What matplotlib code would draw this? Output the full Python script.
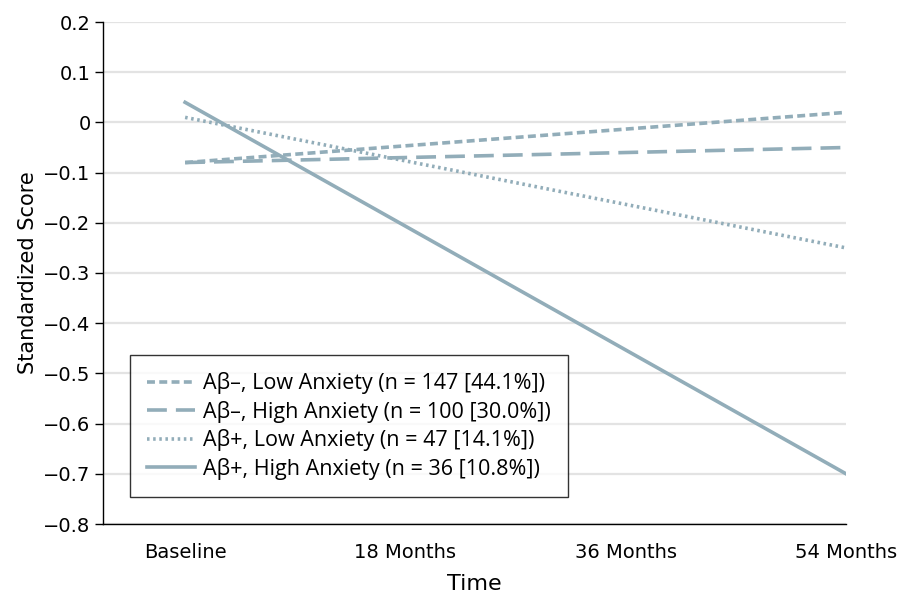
import matplotlib
matplotlib.use("Agg")
import matplotlib.pyplot as plt

# 数据
time_labels = ["Baseline", "18 Months", "36 Months", "54 Months"]
x_pts = [0, 3]
ab_neg_low = [-0.08, 0.02]
ab_neg_high = [-0.08, -0.05]
ab_pos_low = [0.01, -0.25]
ab_pos_high = [0.04, -0.70]
series_labels = [
    "Aβ–, Low Anxiety (n = 147 [44.1%])",
    "Aβ–, High Anxiety (n = 100 [30.0%])",
    "Aβ+, Low Anxiety (n = 47 [14.1%])",
    "Aβ+, High Anxiety (n = 36 [10.8%])",
]
y_ticks = [0.2, 0.1, 0, -0.1, -0.2, -0.3, -0.4, -0.5, -0.6, -0.7, -0.8]

color = "#92adb9"
plt.rcParams["font.family"] = ["Open Sans", "DejaVu Sans"]

fig = plt.figure(figsize=(8.98, 5.97), dpi=100)
ax = fig.add_axes([103 / 898, 1 - 524 / 597, (846 - 103) / 898, (524 - 22) / 597])

ax.plot(x_pts, ab_neg_low, color=color, lw=2.6, linestyle=(0, (2.2, 1.2)), label=series_labels[0])
ax.plot(x_pts, ab_neg_high, color=color, lw=2.6, linestyle=(0, (5.5, 2.5)), label=series_labels[1])
ax.plot(x_pts, ab_pos_low, color=color, lw=2.6, linestyle=(0, (0.7, 1.0)), label=series_labels[2])
ax.plot(x_pts, ab_pos_high, color=color, lw=2.6, linestyle="-", label=series_labels[3])

ax.set_xlim(-82 / 220, 3)
ax.set_ylim(-0.8, 0.2)
ax.set_yticks(y_ticks)
ax.set_yticklabels(["0" if v == 0 else f"{v:.1f}".replace("-", "\u2212") for v in y_ticks],
                   family="DejaVu Sans", fontsize=14)
ax.set_xticks(range(len(time_labels)))
ax.set_xticklabels(time_labels, family="DejaVu Sans", fontsize=14)
ax.tick_params(axis="x", length=0, pad=14)
ax.tick_params(axis="y", length=6, width=1, pad=3)
ax.yaxis.grid(True, color="#e3e3e3", lw=1.6)
ax.set_axisbelow(True)
for s in ["top", "right"]:
    ax.spines[s].set_visible(False)
ax.spines["left"].set_linewidth(1.0)
ax.spines["bottom"].set_linewidth(1.0)

ax.set_xlabel("Time", family="DejaVu Sans", fontsize=16, labelpad=8)
ax.set_ylabel("Standardized Score", family="DejaVu Sans", fontsize=15, labelpad=4)

leg = ax.legend(loc="lower left", bbox_to_anchor=(27 / 743, 27 / 502), fontsize=15.5,
                frameon=True, fancybox=False, handlelength=2.2, handletextpad=0.4,
                labelspacing=0.3, borderpad=0.8, borderaxespad=0)
leg.get_frame().set_edgecolor("black")
leg.get_frame().set_linewidth(1.0)

plt.savefig("out.png", dpi=100)
plt.close()
